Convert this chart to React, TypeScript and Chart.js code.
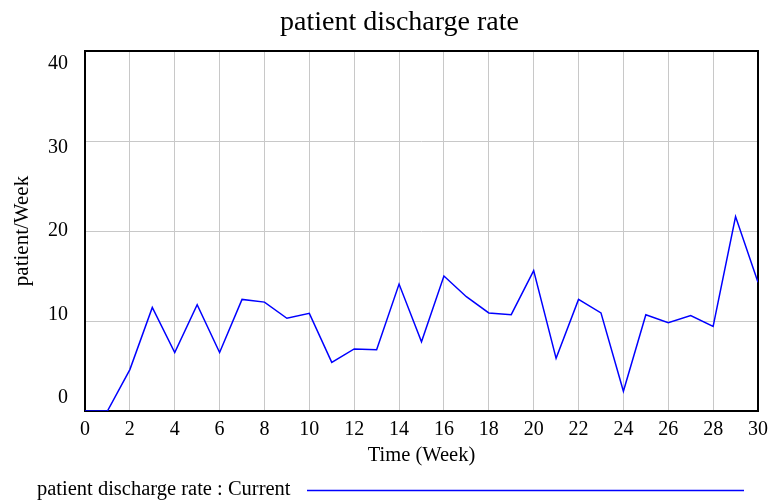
import React, { useEffect, useRef } from "react";
import { Chart, registerables } from "chart.js";

Chart.register(...registerables);

// ---- data ----
const weeks = [0, 1, 2, 3, 4, 5, 6, 7, 8, 9, 10, 11, 12, 13, 14, 15, 16, 17, 18, 19, 20, 21, 22, 23, 24, 25, 26, 27, 28, 29, 30];
const dischargeRate = [0, 0, 4.6, 11.5, 6.5, 11.8, 6.5, 12.4, 12.1, 10.3, 10.85, 5.4, 6.9, 6.8, 14.1, 7.7, 15.0, 12.7, 10.9, 10.7, 15.6, 5.85, 12.4, 10.9, 2.2, 10.7, 9.8, 10.6, 9.4, 21.6, 14.3];
const yTickValues = [0, 10, 20, 30, 40];
const xTickStep = 2;
const chartTitle = "patient discharge rate";
const xAxisTitle = "Time (Week)";
const yAxisTitle = "patient/Week";
const seriesLabel = "patient discharge rate : Current";

const FONT = "'Liberation Serif', 'Times New Roman', serif";
const LINE_COLOR = "#0000ff";
const GRID_COLOR = "#c8c8c8";

const vensimPlugin = {
  id: "vensimDecor",
  beforeDraw(chart: any) {
    const ys = chart.scales.y;
    const { top, bottom } = chart.chartArea;
    const inset = 13;
    const items = ys.getLabelItems();
    items.forEach((it: any) => {
      const v = Number(it.label);
      const frac = (v - ys.min) / (ys.max - ys.min);
      it.options.translation[1] = top + inset + (1 - frac) * (bottom - top - 2 * inset);
    });
    const ctx = chart.ctx;
    ctx.save();
    ctx.fillStyle = "#000";
    ctx.font = `28px ${FONT}`;
    ctx.textAlign = "center";
    ctx.textBaseline = "alphabetic";
    ctx.fillText(chartTitle, 399.5, 30);
    ctx.restore();
  },
  beforeDatasetsDraw(chart: any) {
    const { left, top, right, bottom } = chart.chartArea;
    const ctx = chart.ctx;
    ctx.save();
    ctx.strokeStyle = "#000";
    ctx.lineWidth = 2;
    ctx.strokeRect(left, top, right - left, bottom - top);
    ctx.restore();
  },
  afterDraw(chart: any) {
    const ctx = chart.ctx;
    ctx.save();
    ctx.fillStyle = "#000";
    ctx.font = `20.5px ${FONT}`;
    ctx.textAlign = "left";
    ctx.textBaseline = "alphabetic";
    ctx.fillText(seriesLabel, 37, 495);
    ctx.strokeStyle = LINE_COLOR;
    ctx.lineWidth = 1.5;
    ctx.beginPath();
    ctx.moveTo(307, 490.5);
    ctx.lineTo(744, 490.5);
    ctx.stroke();
    ctx.restore();
  },
};

export default function App() {
  const ref = useRef<HTMLCanvasElement | null>(null);

  useEffect(() => {
    if (!ref.current) return;
    const chart = new Chart(ref.current, {
      type: "line",
      data: {
        datasets: [
          {
            label: seriesLabel,
            data: weeks.map((w, i) => ({ x: w, y: dischargeRate[i] })),
            borderColor: LINE_COLOR,
            backgroundColor: LINE_COLOR,
            borderWidth: 1.5,
            pointRadius: 0,
            tension: 0,
            fill: false,
          },
        ],
      },
      options: {
        responsive: false,
        animation: false,
        devicePixelRatio: 1,
        layout: { padding: { left: 0, right: 11, top: 51, bottom: 36 } },
        plugins: {
          legend: { display: false },
          title: { display: false },
          tooltip: { enabled: false },
        },
        scales: {
          x: {
            type: "linear",
            min: weeks[0],
            max: weeks[weeks.length - 1],
            afterFit: (s: any) => {
              s.height = 57;
              s.paddingLeft = 0;
              s.paddingRight = 0;
            },
            ticks: {
              stepSize: xTickStep,
              color: "#000",
              font: { family: FONT, size: 20 },
              padding: 7,
              maxRotation: 0,
              autoSkip: false,
            },
            grid: { color: GRID_COLOR, lineWidth: 1, drawTicks: false },
            border: { display: false },
            title: {
              display: true,
              text: xAxisTitle,
              color: "#000",
              font: { family: FONT, size: 20.5 },
              padding: { top: 0, bottom: 0 },
            },
          },
          y: {
            type: "linear",
            min: yTickValues[0],
            max: yTickValues[yTickValues.length - 1],
            afterFit: (s: any) => {
              s.width = 85;
              s.paddingTop = 0;
              s.paddingBottom = 0;
            },
            afterBuildTicks: (s: any) => {
              s.ticks = yTickValues.map((v) => ({ value: v }));
            },
            ticks: {
              color: "#000",
              font: { family: FONT, size: 20 },
              padding: 17,
            },
            grid: { color: GRID_COLOR, lineWidth: 1, drawTicks: false },
            border: { display: false },
            title: {
              display: true,
              text: yAxisTitle,
              color: "#000",
              font: { family: FONT, size: 21 },
              padding: { top: 10, bottom: 0 },
            },
          },
        },
      },
      plugins: [vensimPlugin],
    } as any);
    return () => chart.destroy();
  }, []);

  return (
    <div style={{ position: "absolute", left: 0, top: 0, width: 769, height: 504, background: "#fff" }}>
      <canvas ref={ref} width={769} height={504} style={{ display: "block" }} />
    </div>
  );
}
